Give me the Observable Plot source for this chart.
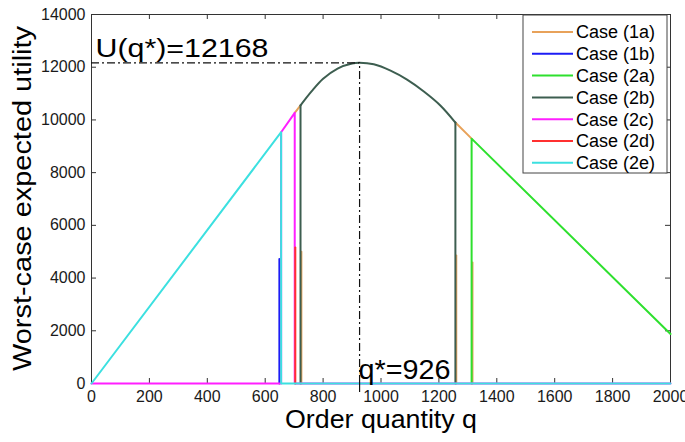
<!DOCTYPE html>
<html><head><meta charset="utf-8">
<script src="https://cdn.jsdelivr.net/npm/d3@7"></script>
<script src="https://cdn.jsdelivr.net/npm/@observablehq/plot@0.6"></script>
<style>html,body{margin:0;padding:0;background:#fff;} #chart{width:685px;height:442px;overflow:hidden;}</style>
</head><body><div id="chart"></div>
<script>
// ---- data ----
const caseNames = ["Case (1a)", "Case (1b)", "Case (2a)", "Case (2b)", "Case (2c)", "Case (2d)", "Case (2e)"];
const caseColors = ["#e8a25a", "#1c1cf5", "#2ee02e", "#3d5e50", "#ff1fff", "#ff3030", "#3ce0e0"];
const xTicks = [0, 200, 400, 600, 800, 1000, 1200, 1400, 1600, 1800, 2000];
const yTicks = [0, 2000, 4000, 6000, 8000, 10000, 12000, 14000];
const optimumQ = 926;
const optimumU = 12168;
const xLabel = "Order quantity q";
const yLabel = "Worst-case expected utility";

// each case: list of straight polyline segments, each a list of [q, U]
const case1a = [
  [[702, 10270], [722, 10550]],
  [[725, 0], [725, 5000]],
  [[1257, 9900], [1313, 9290]],
  [[1260, 0], [1260, 4860]],
  [[1316, 0], [1316, 4590]]
];
const case1b = [
  [[649, 0], [649, 4720]]
];
const case2a = [
  [[1313, 0], [1313, 9290], [2000, 1880]]
];
const case2b = [
  [[722, 0], [722, 10550]],
  [[1257, 9900], [1257, 0]]
];
// smooth arc of case (2b) around the optimum
const case2bArc = [[722, 10550], [760, 11080], [800, 11560], [850, 11950], [900, 12140], [926, 12168], [975, 12110],
  [1033, 11870], [1090, 11530], [1148, 11080], [1205, 10550], [1257, 9900]];
const case2c = [
  [[0, 0], [655, 0], [655, 9534], [702, 10270], [702, 0], [2000, 0]]
];
const case2d = [
  [[704, 0], [704, 5160]]
];
const case2e = [
  [[0, 0], [655, 9534], [655, 0], [2000, 0]]
];
const caseData = [case1a, case1b, case2a, case2b, case2c, case2d, case2e];

// ---- marks ----
const lineMarks = [];
caseData.forEach((segs, ci) => {
  const rows = [];
  segs.forEach((seg, si) => seg.forEach(([q, u]) => rows.push({q, u, key: si})));
  lineMarks.push(Plot.line(rows, {x: "q", y: "u", z: "key", stroke: caseColors[ci], strokeWidth: 2,
    curve: "linear", strokeLinejoin: "round"}));
  if (ci === 3) {
    lineMarks.push(Plot.line(case2bArc.map(([q, u]) => ({q, u})), {x: "q", y: "u", stroke: caseColors[ci],
      strokeWidth: 2, curve: "catmull-rom"}));
  }
});

const W = 685, H = 442, ML = 91, MR = 15, MT = 14, MB = 59;
const PW = W - ML - MR, PH = H - MT - MB;
const fontFam = "'Liberation Sans', Arial, sans-serif";

const chart = Plot.plot({
  width: W, height: H,
  marginLeft: ML, marginRight: MR, marginTop: MT, marginBottom: MB,
  style: {fontFamily: fontFam, fontSize: "16px", background: "#fff", color: "#1a1a1a", overflow: "visible"},
  x: {domain: [0, 2000]},
  y: {domain: [0, 14000]},
  marks: [
    Plot.frame({stroke: "#333", strokeWidth: 1}),
    Plot.axisX(xTicks, {tickSize: 0, tickPadding: 7, label: null, tickFormat: d => String(d), fontSize: 16}),
    Plot.axisY(yTicks, {tickSize: 0, tickPadding: 6, label: null, tickFormat: d => String(d), fontSize: 16}),
    Plot.tickX(xTicks, {x: d => d, insetTop: PH - 5, stroke: "#333"}),
    Plot.tickX(xTicks, {x: d => d, insetBottom: PH - 5, stroke: "#333"}),
    Plot.tickY(yTicks, {y: d => d, insetRight: PW - 5, stroke: "#333"}),
    Plot.tickY(yTicks, {y: d => d, insetLeft: PW - 5, stroke: "#333"}),
    ...lineMarks,
    Plot.ruleY([{q1: 0, q2: optimumQ, u: optimumU}], {x1: "q1", x2: "q2", y: "u", stroke: "#111", strokeWidth: 1.2, strokeDasharray: "8,3,2,3"}),
    Plot.ruleX([{q: optimumQ, u1: 0, u2: optimumU}], {x: "q", y1: "u1", y2: "u2", stroke: "#111", strokeWidth: 1.2, strokeDasharray: "8,3,2,3"}),
    Plot.tickX([optimumQ], {x: d => d, insetTop: PH, insetBottom: -9, stroke: "#111", strokeWidth: 1.2}),
    Plot.text([{q: 0, u: optimumU}], {x: "q", y: "u", text: d => "U(q*)=" + optimumU, textAnchor: "start", lineAnchor: "bottom",
      dx: 4, dy: -6, fontSize: 26, fill: "#000"}),
    Plot.text([{q: optimumQ, u: 0}], {x: "q", y: "u", text: d => "q*=" + optimumQ, textAnchor: "start", lineAnchor: "bottom",
      dx: -1, dy: -5, fontSize: 27, fill: "#000"}),
    Plot.text([xLabel], {frameAnchor: "bottom", text: d => d, dy: 44, lineAnchor: "bottom", fontSize: 25, fill: "#000"})
  ]
});

document.getElementById("chart").appendChild(chart);

const svg = d3.select(chart);

// y-axis title (rotated)
svg.append("text")
  .attr("transform", `translate(22,${MT + PH / 2}) rotate(-90)`)
  .attr("text-anchor", "middle").attr("dy", "0.35em")
  .attr("font-family", fontFam).attr("font-size", 25).attr("fill", "#000")
  .text(yLabel);

// stretch annotation texts to the reference widths
const widths = {};
widths["U(q*)=" + optimumU] = 173;
widths["q*=" + optimumQ] = 92;
widths[xLabel] = 192;
widths[yLabel] = 345;
svg.selectAll("text").each(function() {
  const t = this.textContent;
  if (widths[t] !== undefined) {
    d3.select(this).attr("textLength", widths[t]).attr("lengthAdjust", "spacingAndGlyphs");
  }
});

// legend box inside the plot (top right)
const lg = svg.append("g").attr("font-family", fontFam).attr("font-size", 18).attr("text-anchor", "start");
const lx0 = 523, ly0 = 15, lw = 144, lh = 158;
lg.append("rect").attr("x", lx0).attr("y", ly0).attr("width", lw).attr("height", lh)
  .attr("fill", "#fff").attr("stroke", "#444").attr("stroke-width", 1);
caseNames.forEach((name, i) => {
  const cy = 32 + i * 21.8;
  lg.append("line").attr("x1", lx0 + 9).attr("x2", lx0 + 50).attr("y1", cy).attr("y2", cy)
    .attr("stroke", caseColors[i]).attr("stroke-width", 2);
  lg.append("text").attr("x", lx0 + 53).attr("y", cy).attr("dy", "0.35em")
    .attr("text-anchor", "start").attr("fill", "#000").text(name);
});
</script>
</body></html>
